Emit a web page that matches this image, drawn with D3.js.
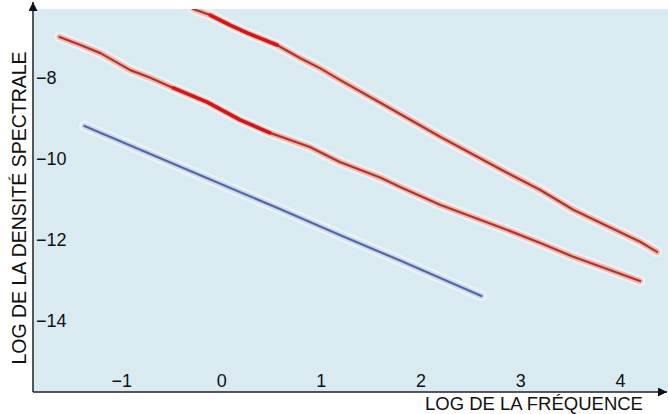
<!DOCTYPE html>
<html>
<head>
<meta charset="utf-8">
<script src="https://cdn.jsdelivr.net/npm/d3@7"></script>
<style>
  html, body { margin: 0; padding: 0; background: #fff; }
  svg { display: block; }
</style>
</head>
<body>
<svg id="chart" width="668" height="414"></svg>
<script>
// tick values
var xTicks = [-1, 0, 1, 2, 3, 4];
var yTicks = [-8, -10, -12, -14];

// upper red spectrum (log f, log S)
var redTopX = [-0.28, -0.11, 0.09, 0.26, 0.39, 0.56, 0.79, 0.99, 1.19, 1.60, 2.20, 2.87, 3.20, 3.53, 3.87, 4.20, 4.37];
var redTopY = [-6.32, -6.47, -6.72, -6.91, -7.04, -7.21, -7.53, -7.78, -8.07, -8.64, -9.48, -10.37, -10.79, -11.28, -11.68, -12.07, -12.32];

// middle red spectrum
var redMidX = [-1.62, -1.41, -1.21, -0.91, -0.71, -0.48, -0.14, 0.19, 0.49, 0.89, 1.19, 1.60, 1.80, 2.20, 2.87, 3.20, 3.53, 3.87, 4.20];
var redMidY = [-7.01, -7.21, -7.41, -7.83, -8.02, -8.27, -8.62, -9.06, -9.38, -9.73, -10.10, -10.49, -10.72, -11.16, -11.78, -12.10, -12.44, -12.74, -13.04];

// blue spectrum
var blueX = [-1.37, -0.38, 0.59, 1.19, 1.80, 2.61];
var blueY = [-9.21, -10.25, -11.26, -11.90, -12.54, -13.41];

var svg = d3.select("#chart");
var plotL = 33, plotR = 668, plotT = 9, plotB = 392;

var x = d3.scaleLinear().domain([-1.886, 4.48]).range([plotL, plotR]);
var y = d3.scaleLinear().domain([-15.78, -6.32]).range([plotB, plotT]);

function pts(xs, ys) {
    return xs.map(function(v, i) { return [v, ys[i]]; });
}

/* fond du graphique */
svg.append("rect")
    .attr("x", plotL).attr("y", plotT)
    .attr("width", plotR - plotL).attr("height", plotB - plotT)
    .attr("fill", "#d9eaf1");

svg.append("clipPath").attr("id", "plot")
    .append("rect")
    .attr("x", plotL).attr("y", plotT)
    .attr("width", plotR - plotL).attr("height", plotB - plotT);

var line = d3.line()
    .x(function(d) { return x(d[0]); })
    .y(function(d) { return y(d[1]); });

var series = [
    { data: pts(redTopX, redTopY), halo: "#f3b8a6", core: "#a9343a", hot: [1, 6] },
    { data: pts(redMidX, redMidY), halo: "#f3b8a6", core: "#a9343a", hot: [5, 9] },
    { data: pts(blueX, blueY), halo: "#c8d9f1", core: "#56679c", hot: null }
];

var g = svg.append("g").attr("clip-path", "url(#plot)");

/* halo blanc diffus */
g.selectAll("path.glow")
    .data(series)
    .enter()
    .append("path")
    .attr("class", "glow")
    .attr("fill", "none")
    .attr("stroke", "#f4f8fa")
    .attr("stroke-opacity", 0.6)
    .attr("stroke-width", 11)
    .attr("stroke-linejoin", "round")
    .attr("stroke-linecap", "round")
    .attr("d", function(d) { return line(d.data); });

g.selectAll("path.halo")
    .data(series)
    .enter()
    .append("path")
    .attr("class", "halo")
    .attr("fill", "none")
    .attr("stroke", function(d) { return d.halo; })
    .attr("stroke-width", 6)
    .attr("stroke-linejoin", "round")
    .attr("stroke-linecap", "round")
    .attr("d", function(d) { return line(d.data); });

g.selectAll("path.core")
    .data(series)
    .enter()
    .append("path")
    .attr("class", "core")
    .attr("fill", "none")
    .attr("stroke", function(d) { return d.core; })
    .attr("stroke-width", 2.2)
    .attr("stroke-linejoin", "round")
    .attr("stroke-linecap", "round")
    .attr("d", function(d) { return line(d.data); });

/* parties plus intenses des spectres rouges */
g.selectAll("path.hot")
    .data(series.filter(function(d) { return d.hot; }))
    .enter()
    .append("path")
    .attr("class", "hot")
    .attr("fill", "none")
    .attr("stroke", "#cc1820")
    .attr("stroke-width", 3.6)
    .attr("stroke-linejoin", "round")
    .attr("stroke-linecap", "round")
    .attr("d", function(d) { return line(d.data.slice(d.hot[0], d.hot[1])); });

/* axes */
var font = "'Liberation Sans', Arial, sans-serif";
var fmt = d3.format("d");

var xAxis = svg.append("g")
    .attr("transform", "translate(0," + plotB + ")")
    .call(d3.axisBottom(x).tickValues(xTicks).tickSize(0).tickFormat(fmt));
xAxis.select(".domain").remove();
xAxis.selectAll("text")
    .attr("y", -5).attr("dy", 0)
    .attr("fill", "#111")
    .style("font-family", font).style("font-size", "18px");

var yAxis = svg.append("g")
    .attr("transform", "translate(" + plotL + ",0)")
    .call(d3.axisLeft(y).tickValues(yTicks).tickSize(0).tickFormat(fmt));
yAxis.select(".domain").remove();
yAxis.selectAll("text")
    .attr("x", 3).attr("dy", "0.35em")
    .attr("text-anchor", "start")
    .attr("fill", "#111")
    .style("font-family", font).style("font-size", "18px");

var defs = svg.append("defs");
defs.append("marker")
    .attr("id", "arrow")
    .attr("viewBox", "0 0 10 10")
    .attr("refX", 10).attr("refY", 5)
    .attr("markerWidth", 9).attr("markerHeight", 9)
    .attr("markerUnits", "userSpaceOnUse")
    .attr("orient", "auto")
    .append("path")
    .attr("d", "M0,0L10,5L0,10Z")
    .attr("fill", "#111");

svg.append("line")
    .attr("x1", plotL).attr("y1", plotB)
    .attr("x2", plotL).attr("y2", 2)
    .attr("stroke", "#222").attr("stroke-width", 1.5)
    .attr("marker-end", "url(#arrow)");

svg.append("line")
    .attr("x1", plotL).attr("y1", plotB)
    .attr("x2", 667).attr("y2", plotB)
    .attr("stroke", "#222").attr("stroke-width", 1.5)
    .attr("marker-end", "url(#arrow)");

/* titres des axes */
svg.append("text")
    .attr("transform", "translate(26,208) rotate(-90)")
    .attr("text-anchor", "middle")
    .attr("fill", "#111")
    .style("font-family", font).style("font-size", "19.5px")
    .text("LOG DE LA DENSITÉ SPECTRALE");

svg.append("text")
    .attr("x", 534).attr("y", 410)
    .attr("text-anchor", "middle")
    .attr("fill", "#111")
    .style("font-family", font).style("font-size", "18.5px")
    .text("LOG DE LA FRÉQUENCE");
</script>
</body>
</html>
